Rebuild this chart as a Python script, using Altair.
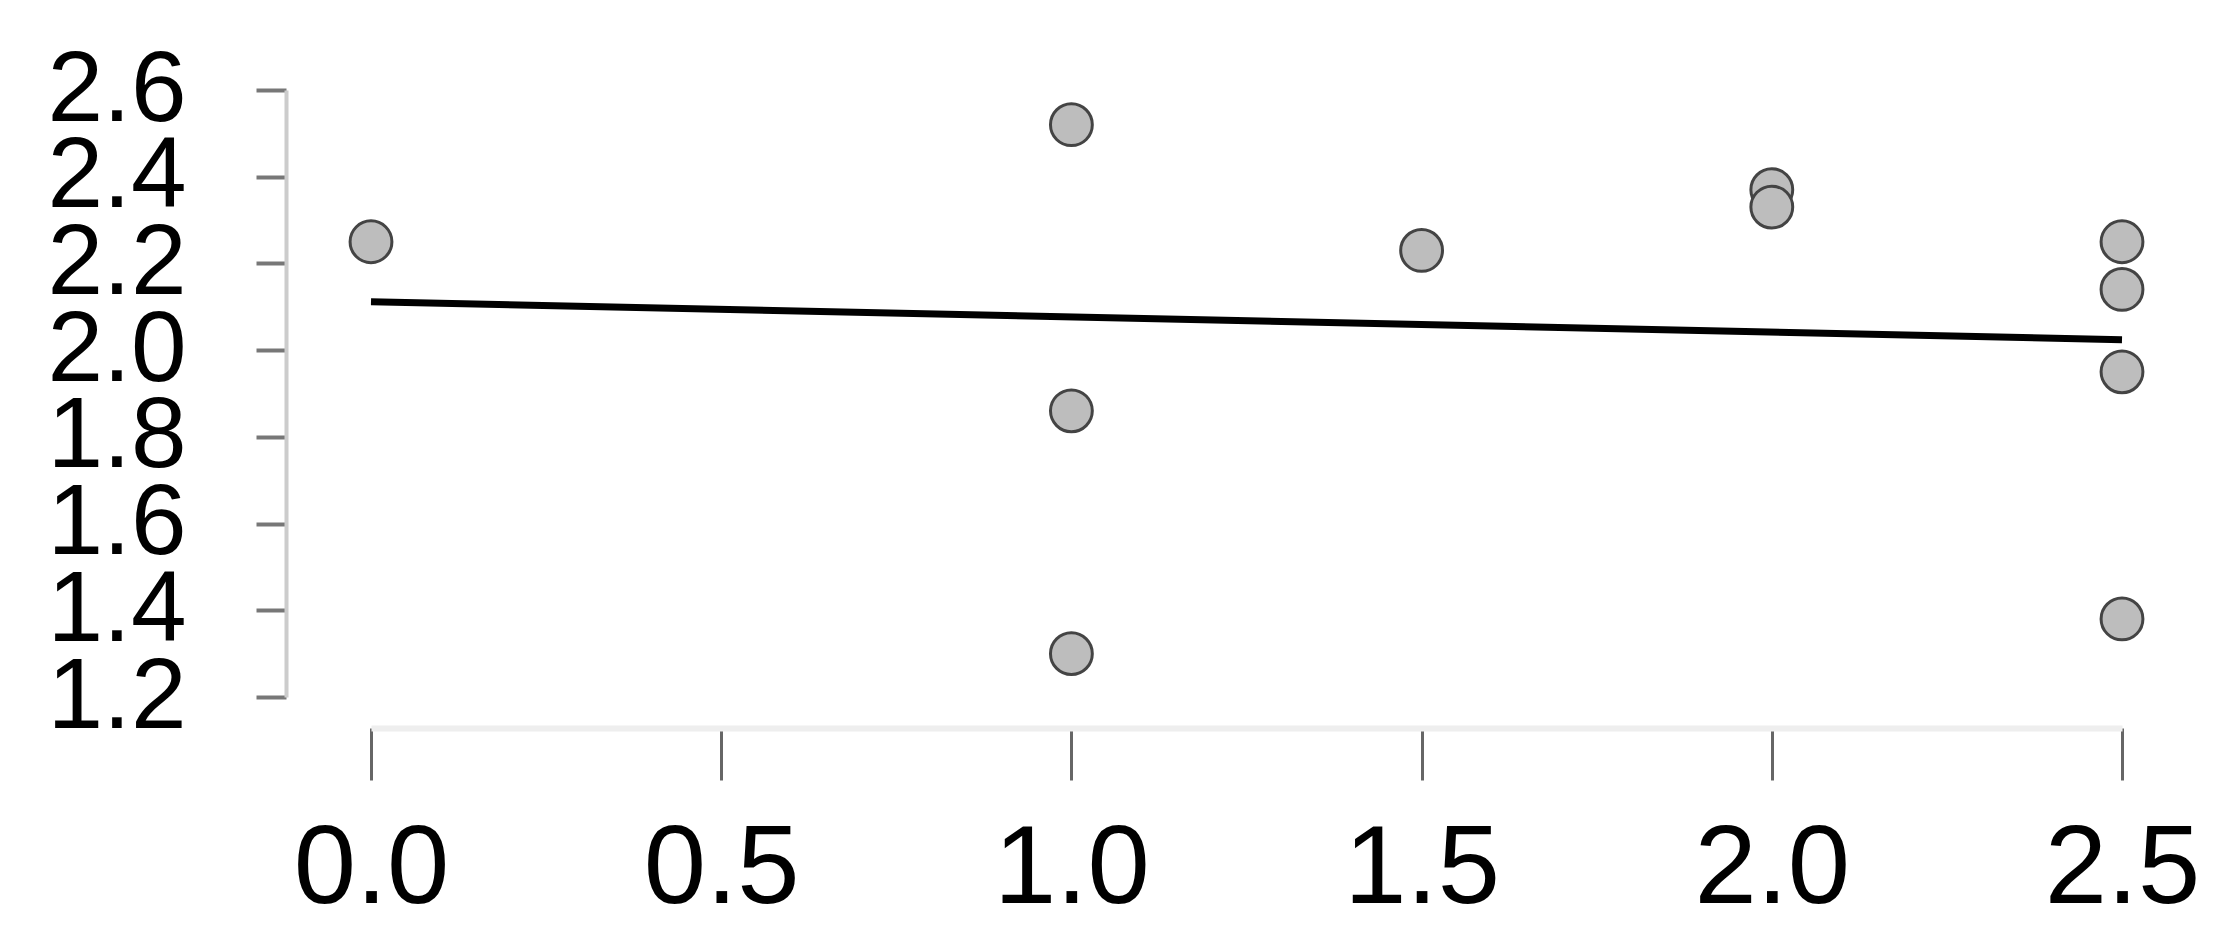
import altair as alt
import pandas as pd

xs = [0.0, 1.0, 1.0, 1.0, 1.5, 2.0, 2.0, 2.5, 2.5, 2.5, 2.5]
ys = [2.25, 2.52, 1.86, 1.30, 2.23, 2.37, 2.33, 2.25, 2.14, 1.95, 1.38]
x_ticks = [0.0, 0.5, 1.0, 1.5, 2.0, 2.5]
y_ticks = [1.2, 1.4, 1.6, 1.8, 2.0, 2.2, 2.4, 2.6]

df = pd.DataFrame({"x": xs, "y": ys})

xscale = alt.Scale(domain=[0, 2.5], nice=False, zero=False)
yscale = alt.Scale(domain=[1.2, 2.6], nice=False, zero=False)

xaxis = alt.Axis(values=x_ticks, format=".1f", title=None, grid=False,
                 offset=31, tickSize=52, tickWidth=3, tickColor="#666",
                 domainColor="#eeeeee", domainWidth=6,
                 labelFont="Liberation Sans", labelFontSize=112,
                 labelColor="#000", labelPadding=34, labelFlush=False,
                 labelOverlap=False)
yaxis = alt.Axis(values=y_ticks, format=".1f", title=None, grid=False,
                 offset=85, tickSize=30, tickWidth=4, tickColor="#777",
                 domainColor="#cccccc", domainWidth=4,
                 labelFont="Liberation Sans", labelFontSize=100,
                 labelColor="#000", labelPadding=70, labelOverlap=False,
                 labelBaseline="middle", labelFlush=False)

base = alt.Chart(df)

points = base.mark_circle(size=1750, opacity=1, fill="#bdbdbd",
                          stroke="#444444", strokeWidth=3).encode(
    x=alt.X("x:Q", scale=xscale, axis=xaxis),
    y=alt.Y("y:Q", scale=yscale, axis=yaxis),
)

line = base.transform_regression("x", "y", extent=[0, 2.5]).mark_line(
    color="#000000", strokeWidth=7).encode(
    x=alt.X("x:Q", scale=xscale),
    y=alt.Y("y:Q", scale=yscale),
)

chart = alt.layer(line, points).properties(
    width=1751, height=607,
    autosize=alt.AutoSizeParams(type="none"),
    padding={"left": 363, "top": 82, "right": 100, "bottom": 240},
).configure(background="white").configure_view(stroke=None, strokeWidth=0)

chart.save("out.html", embed_options={"renderer": "svg", "actions": False})
